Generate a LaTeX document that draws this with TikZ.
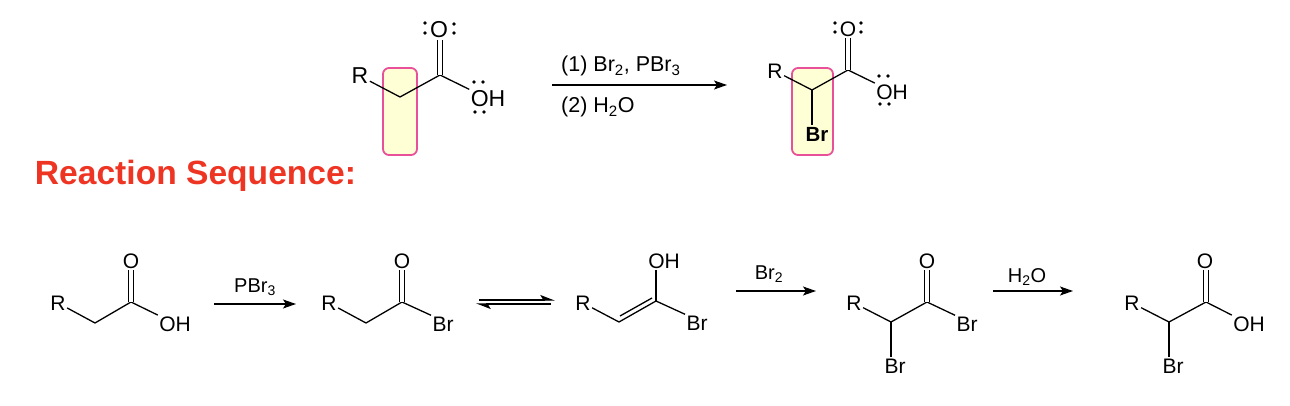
\documentclass[tikz,border=0pt]{standalone}
\usepackage{fontspec}
\setmainfont{Liberation Sans}
\usetikzlibrary{arrows.meta}
\definecolor{boxpink}{HTML}{E8509A}
\definecolor{boxfill}{HTML}{FFFFD6}
\definecolor{titlered}{HTML}{EE3524}
\tikzset{
	atom/.style={font=\fontsize{21}{24}\selectfont,inner sep=1.5pt,outer sep=0pt},
	bigatom/.style={font=\fontsize{23}{26}\selectfont,inner sep=1.5pt,outer sep=0pt},
	reagent/.style={font=\fontsize{20}{24}\selectfont,inner sep=0pt,anchor=base},
	bigreagent/.style={font=\fontsize{21.5}{24}\selectfont,inner sep=0pt,anchor=base west},
	bond/.style={line width=1.3pt,line join=miter},
	dblbond/.style={line width=1.2pt,double,double distance=3.4pt},
	rxnarrow/.style={line width=1.3pt,-{Stealth[length=13pt,width=9pt,inset=3pt]}},
	eqarrow/.style={line width=1.3pt,-{Stealth[harpoon,length=13pt,width=10pt,inset=3pt]}},
	hilite/.style={draw=boxpink,fill=boxfill,line width=1.8pt,rounded corners=6pt}
}
\newcommand{\lonepair}[2]{\fill (#1,#2) circle (1.9pt);}
\begin{document}
\begin{tikzpicture}[x=1pt,y=-1pt]
	\useasboundingbox (0,0) rectangle (1290,406);

	% overall reaction
	\node[hilite,minimum width=34pt,minimum height=87pt] (boxa) at (400,111.5) {};
	\node[bigatom] (ra) at (360,76) {R};
	\coordinate (cha) at (400,97);
	\coordinate (coa) at (440,75);
	\node[bigatom] (oa) at (439,30) {O};
	\node[bigatom] (oha) at (488,99) {OH};
	\draw[bond] (ra) -- (cha) -- (coa) -- (oha.north west);
	\draw[dblbond] (coa) -- (oa.south -| coa);
	\foreach \x/\y in {425/23,425/33,454/24,454/33,474/82,483/82,475/112,484/112} {\lonepair{\x}{\y}}

	\coordinate (arrowas) at (552,85);
	\coordinate (arrowae) at (727,85);
	\draw[rxnarrow] (arrowas) -- (arrowae);
	\node[bigreagent] (reaga) at (561,72) {(1) Br\textsubscript{2}, PBr\textsubscript{3}};
	\node[bigreagent] (reagb) at (561,113) {(2) H\textsubscript{2}O};

	\node[hilite,minimum width=41pt,minimum height=87pt] (boxb) at (812.5,111.5) {};
	\node[atom] (rb) at (775,71) {R};
	\coordinate (chb) at (812,90);
	\coordinate (cob) at (848,70);
	\node[atom] (ob) at (848,29) {O};
	\node[atom] (ohb) at (892,92) {OH};
	\node[atom,font=\bfseries\fontsize{20.5}{24}\selectfont] (brb) at (817,134) {Br};
	\draw[bond] (rb) -- (chb) -- (cob) -- (ohb.north west);
	\draw[bond] (chb) -- (chb |- brb.north);
	\draw[dblbond] (cob) -- (ob.south -| cob);
	\foreach \x/\y in {835/23,835/32,861/23,861/32,879/76,888/76,880/104,889/104} {\lonepair{\x}{\y}}

	\node[font=\bfseries\fontsize{33.6}{38}\selectfont,text=titlered,inner sep=0pt] (title) at (195.5,175.5) {Reaction Sequence:};

	% sequence
	\node[atom] (r1) at (58,303) {R};
	\coordinate (ch1) at (95,323);
	\coordinate (co1) at (131,302);
	\node[atom] (o1) at (131,261) {O};
	\node[atom] (oh1) at (175,324) {OH};
	\draw[bond] (r1) -- (ch1) -- (co1) -- (oh1.north west);
	\draw[dblbond] (co1) -- (o1.south -| co1);

	\coordinate (arrow1s) at (214,304);
	\coordinate (arrow1e) at (296,304);
	\draw[rxnarrow] (arrow1s) -- (arrow1e);
	\node[reagent] (pbr) at (255,292) {PBr\textsubscript{3}};

	\node[atom] (r2) at (329,303) {R};
	\coordinate (ch2) at (366,323);
	\coordinate (co2) at (402,302);
	\node[atom] (o2) at (402,261) {O};
	\node[atom] (br2) at (443,324) {Br};
	\draw[bond] (r2) -- (ch2) -- (co2) -- (br2.north west);
	\draw[dblbond] (co2) -- (o2.south -| co2);

	\coordinate (eqas) at (479,300);
	\coordinate (eqae) at (555,300);
	\coordinate (eqbs) at (551,304);
	\coordinate (eqbe) at (476,304);
	\draw[eqarrow] (eqas) -- (eqae);
	\draw[eqarrow] (eqbs) -- (eqbe);

	\node[atom] (r3) at (583,303) {R};
	\coordinate (ch3) at (619,322);
	\coordinate (co3) at (656,301);
	\coordinate (ina) at (620,316);
	\coordinate (inb) at (652,298);
	\node[atom] (oh3) at (664,261) {OH};
	\node[atom] (br3) at (697,323) {Br};
	\draw[bond] (r3) -- (ch3) -- (co3) -- (br3.north west);
	\draw[bond] (ina) -- (inb);
	\draw[bond] (co3) -- (co3 |- oh3.south);

	\coordinate (arrow3s) at (736,291);
	\coordinate (arrow3e) at (816,291);
	\draw[rxnarrow] (arrow3s) -- (arrow3e);
	\node[reagent] (brtwo) at (769,279) {Br\textsubscript{2}};

	\node[atom] (r4) at (854,303) {R};
	\coordinate (ch4) at (891,322);
	\coordinate (co4) at (927,302);
	\node[atom] (o4) at (927,261) {O};
	\node[atom] (br4) at (967,324) {Br};
	\node[atom] (brl4) at (895,366) {Br};
	\draw[bond] (r4) -- (ch4) -- (co4) -- (br4.north west);
	\draw[bond] (ch4) -- (ch4 |- brl4.north);
	\draw[dblbond] (co4) -- (o4.south -| co4);

	\coordinate (arrow4s) at (993,291);
	\coordinate (arrow4e) at (1073,291);
	\draw[rxnarrow] (arrow4s) -- (arrow4e);
	\node[reagent] (water) at (1027,282) {H\textsubscript{2}O};

	\node[atom] (r5) at (1132,303) {R};
	\coordinate (ch5) at (1169,322);
	\coordinate (co5) at (1206,302);
	\node[atom] (o5) at (1205,261) {O};
	\node[atom] (oh5) at (1249,324) {OH};
	\node[atom] (brl5) at (1173,366) {Br};
	\draw[bond] (r5) -- (ch5) -- (co5) -- (oh5.north west);
	\draw[bond] (ch5) -- (ch5 |- brl5.north);
	\draw[dblbond] (co5) -- (o5.south -| co5);
\end{tikzpicture}
\end{document}
